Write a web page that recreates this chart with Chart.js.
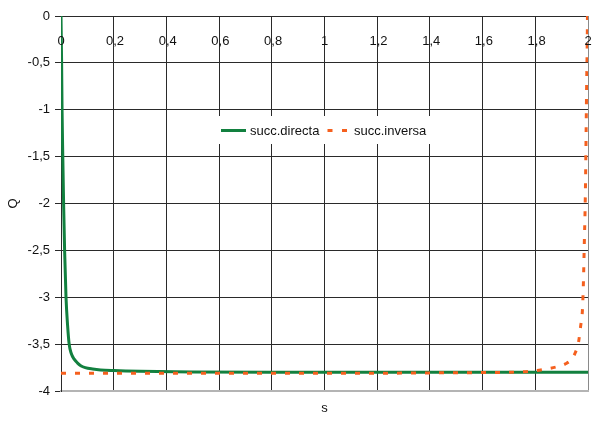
<!DOCTYPE html>
<html>
<head>
<meta charset="utf-8">
<title>Q - s</title>
<script src="https://cdn.jsdelivr.net/npm/chart.js@4.4.1/dist/chart.umd.min.js"></script>
<style>
  body { margin: 0; background: #fff; }
  #wrap { width: 594px; height: 425px; }
</style>
</head>
<body>
<div id="wrap"><canvas id="chart" width="594" height="425"></canvas></div>
<script>
// curves: s on x, Q on y
var seriesNames = ['succ.directa', 'succ.inversa'];

var directaS = [0, 0.0023, 0.004, 0.0068, 0.0099, 0.0137, 0.019, 0.025, 0.031, 0.039, 0.05, 0.062,
                0.075, 0.092, 0.12, 0.15, 0.2, 0.3, 0.5, 0.8, 1.2, 1.6, 2.0];
var directaQ = [0, -0.5, -1.0, -1.5, -2.0, -2.5, -3.0, -3.3, -3.5, -3.6, -3.66, -3.7,
                -3.73, -3.75, -3.765, -3.775, -3.782, -3.79, -3.797, -3.8, -3.8, -3.8, -3.8];

var inversaS = [0, 0.4, 0.8, 1.2, 1.5, 1.7, 1.78, 1.83, 1.885, 1.915, 1.938, 1.952,
                1.964, 1.972, 1.979, 1.983, 1.986, 1.989, 1.991, 1.993, 1.995, 1.997, 1.998];
var inversaQ = [-3.81, -3.81, -3.81, -3.81, -3.805, -3.8, -3.79, -3.77, -3.74, -3.71, -3.66, -3.59,
                -3.48, -3.31, -3.13, -2.8, -2.42, -2.06, -1.7, -1.2, -0.7, -0.3, 0];

var xTickValues = [0, 0.2, 0.4, 0.6, 0.8, 1, 1.2, 1.4, 1.6, 1.8, 2];
var xTickLabels = ['0', '0,2', '0,4', '0,6', '0,8', '1', '1,2', '1,4', '1,6', '1,8', '2'];
var yTickValues = [0, -0.5, -1, -1.5, -2, -2.5, -3, -3.5, -4];
var yTickLabels = ['0', '-0,5', '-1', '-1,5', '-2', '-2,5', '-3', '-3,5', '-4'];

var green = '#12803f';
var orange = '#f5601e';

function toPoints(xs, ys){
  var pts = [];
  for(var i=0;i<xs.length;i++){
    pts.push({x: xs[i], y: ys[i]});
  }
  return pts;
}

function labelFor(value, values, labels){
  for(var i=0;i<values.length;i++){
    if(Math.abs(values[i]-value) < 1e-6) return labels[i];
  }
  return '';
}

Chart.defaults.font.family = '"Liberation Sans", Arial, sans-serif';
Chart.defaults.font.size = 13;
Chart.defaults.color = '#111';

// legend box sitting inside the plot, covers the grid behind it
var insideLegend = {
  id: 'insideLegend',
  beforeDatasetsDraw: function(chart){
    var ctx = chart.ctx;
    var sets = chart.data.datasets;
    var top = 116, left = 218;
    ctx.save();
    ctx.fillStyle = '#fff';
    ctx.fillRect(left, top, 218, 28);

    ctx.lineWidth = 3;
    ctx.lineCap = 'butt';
    ctx.strokeStyle = sets[0].borderColor;
    ctx.beginPath();
    ctx.moveTo(221, 130.5);
    ctx.lineTo(246, 130.5);
    ctx.stroke();

    ctx.strokeStyle = sets[1].borderColor;
    ctx.setLineDash([5, 9.5]);
    ctx.beginPath();
    ctx.moveTo(327.5, 130.5);
    ctx.lineTo(347, 130.5);
    ctx.stroke();
    ctx.setLineDash([]);

    ctx.fillStyle = '#111';
    ctx.font = '13px "Liberation Sans", Arial, sans-serif';
    ctx.textBaseline = 'middle';
    ctx.textAlign = 'left';
    ctx.fillText(sets[0].label, 250, 131);
    ctx.fillText(sets[1].label, 354, 131);
    ctx.restore();
  }
};

function gridX(c){
  if(c.tick && Math.abs(c.tick.value - 2) < 1e-6) return '#8a8a8a';
  return '#2a2a2a';
}
function gridY(c){
  if(c.tick && Math.abs(c.tick.value + 4) < 1e-6) return '#b4b4b4';
  return '#2a2a2a';
}

var ctx = document.getElementById('chart');
new Chart(ctx, {
  type: 'line',
  data: {
    datasets: [{
      label: seriesNames[0],
      data: toPoints(directaS, directaQ),
      borderColor: green,
      backgroundColor: green,
      borderWidth: 3,
      pointRadius: 0,
      cubicInterpolationMode: 'monotone',
      fill: false,
      order: 1
    },{
      label: seriesNames[1],
      data: toPoints(inversaS, inversaQ),
      borderColor: orange,
      backgroundColor: orange,
      borderWidth: 3,
      borderDash: [5, 9],
      borderCapStyle: 'butt',
      pointRadius: 0,
      cubicInterpolationMode: 'monotone',
      fill: false,
      order: 0
    }]
  },
  options: {
    responsive: false,
    animation: false,
    layout: { padding: { left: 0, top: 16, right: 6, bottom: 0 } },
    plugins: {
      legend: { display: false },
      tooltip: { enabled: false }
    },
    scales: {
      x: {
        type: 'linear',
        position: 'bottom',
        min: 0, max: 2,
        ticks: { display: false, stepSize: 0.2 },
        grid: { color: gridX, lineWidth: 1, drawTicks: false },
        border: { color: '#b4b4b4', width: 2 },
        title: { display: true, text: 's', padding: { top: 0, bottom: 9 } },
        afterFit: function(s){ s.height = 34; }
      },
      // labels for s sit just under the Q = 0 line
      x2: {
        type: 'linear',
        position: { y: 0 },
        min: 0, max: 2,
        grid: { display: false },
        border: { display: false },
        ticks: {
          stepSize: 0.2,
          padding: 10,
          autoSkip: false,
          maxRotation: 0,
          z: 1,
          callback: function(v){
            var t = labelFor(v, xTickValues, xTickLabels);
            // thin space keeps the comma clear of the grid line
            return t.indexOf(',') >= 0 ? '\u2009' + t : t;
          }
        },
        afterFit: function(s){ s.paddingLeft = 0; s.paddingRight = 0; }
      },
      y: {
        type: 'linear',
        min: -4, max: 0,
        ticks: {
          stepSize: 0.5,
          padding: 5,
          callback: function(v){ return labelFor(v, yTickValues, yTickLabels); }
        },
        grid: { color: gridY, tickColor: '#2a2a2a', tickLength: 6, lineWidth: 1 },
        border: { color: '#2a2a2a', width: 1 },
        title: { display: true, text: 'Q', padding: { top: 6, bottom: 0 } },
        afterFit: function(s){ s.width = 61; }
      }
    }
  },
  plugins: [insideLegend]
});
</script>
</body>
</html>
